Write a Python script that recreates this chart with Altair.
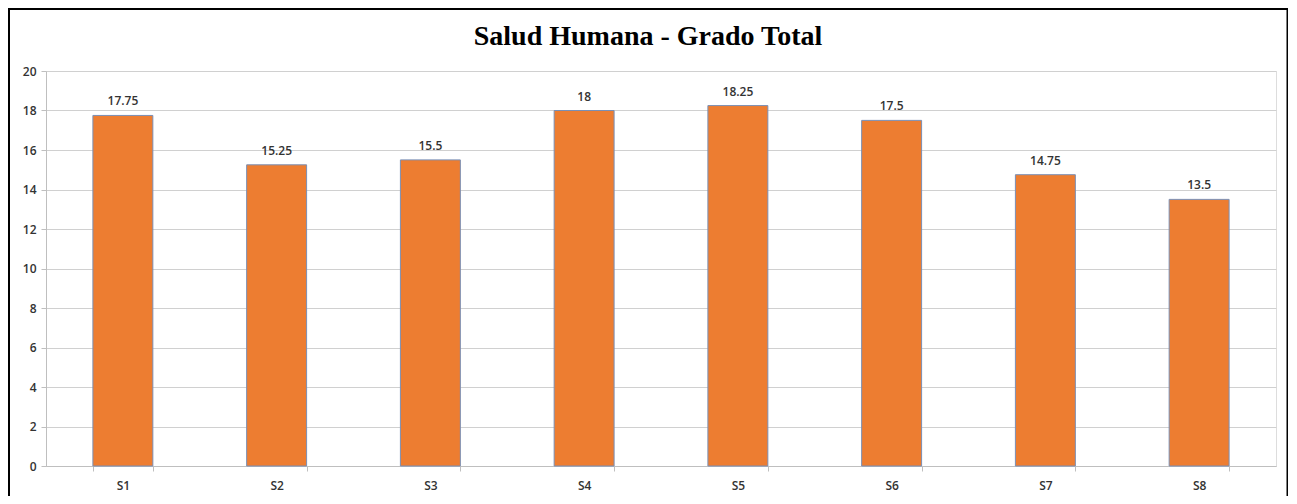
import altair as alt
import pandas as pd

categories = ["S1", "S2", "S3", "S4", "S5", "S6", "S7", "S8"]
values = [17.75, 15.25, 15.5, 18, 18.25, 17.5, 14.75, 13.5]
labels = ["17.75", "15.25", "15.5", "18", "18.25", "17.5", "14.75", "13.5"]
y_ticks = [0, 2, 4, 6, 8, 10, 12, 14, 16, 18, 20]
title_text = ["Salud Humana - Grado Total"]

df = pd.DataFrame({"cat": categories, "val": values, "lab": labels})
tdf = pd.DataFrame({"t": title_text})

W, H = 1230, 395
FONT = "Open Sans"

x = alt.X("cat:N", sort=categories,
          scale=alt.Scale(paddingInner=0.61, paddingOuter=0.305),
          axis=alt.Axis(title=None, labelAngle=0, labelFont=FONT, labelFontSize=12,
                        labelFontWeight=600, labelColor="#333333", labelPadding=9,
                        domainColor="#bfbfbf", tickColor="#bfbfbf", tickSize=5,
                        tickBand="extent", grid=False))
y = alt.Y("val:Q", scale=alt.Scale(domain=[0, 20], nice=False),
          axis=alt.Axis(title=None, values=y_ticks, labelFont=FONT,
                        labelFontSize=12, labelFontWeight=600, labelColor="#333333",
                        labelOverlap=False, labelPadding=5, domainColor="#bfbfbf",
                        tickColor="#bfbfbf", tickSize=5, gridColor="#d0d0d0", gridWidth=1))

bars = alt.Chart(df).mark_bar(color="#ED7D31", stroke="#7a8fb5", strokeWidth=1).encode(x=x, y=y)

text = alt.Chart(df).mark_text(dy=-14, font=FONT, fontSize=12, fontWeight=600,
                               color="#333333").encode(x=x, y=y, text="lab:N")

title = alt.Chart(tdf).mark_text(font="Liberation Serif", fontSize=28, fontWeight="bold",
                                 color="black", align="center", baseline="middle").encode(
    x=alt.value(602), y=alt.value(-34), text="t:N")

frame = alt.Chart(tdf).mark_rect(fill="white", fillOpacity=0, stroke="black",
                                 strokeWidth=2).encode(
    x=alt.value(-37), x2=alt.value(1241.5), y=alt.value(-62), y2=alt.value(460))

chart = alt.layer(bars, text, title, frame).properties(
    width=W, height=H,
    padding={"left": 38, "top": 63, "right": 12, "bottom": 30},
    autosize=alt.AutoSizeParams(type="none"),
).configure_view(stroke=None).configure(background="white")

chart.save("out.html", embed_options={"renderer": "svg", "actions": False})
